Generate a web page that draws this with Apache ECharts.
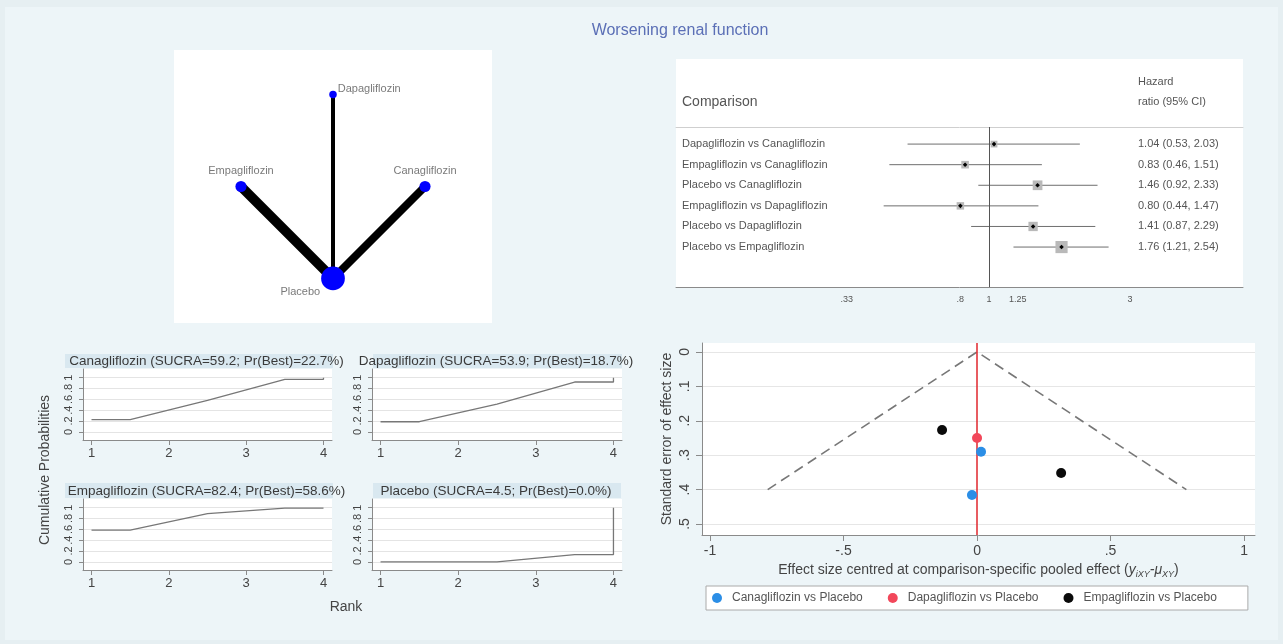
<!DOCTYPE html>
<html>
<head>
<meta charset="utf-8">
<script src="https://cdn.jsdelivr.net/npm/echarts@6/dist/echarts.min.js"></script>
<style>
html,body{margin:0;padding:0;background:#e6eff2;}
#chart{width:1283px;height:644px;}
</style>
</head>
<body>
<div id="chart"></div>
<script>
// ---------------- DATA ----------------
const chartTitle = 'Worsening renal function';

// Network plot
const treatments = ['Canagliflozin', 'Dapagliflozin', 'Empagliflozin', 'Placebo'];
const nodeWeight = [2.2, 1, 2.2, 10];
const edgeFrom = ['Placebo', 'Placebo', 'Placebo'];
const edgeTo = ['Canagliflozin', 'Dapagliflozin', 'Empagliflozin'];
const edgeWeight = [2, 1, 2.4];

// League / forest table
const comparisons = [
  'Dapagliflozin vs Canagliflozin',
  'Empagliflozin vs Canagliflozin',
  'Placebo vs Canagliflozin',
  'Empagliflozin vs Dapagliflozin',
  'Placebo vs Dapagliflozin',
  'Placebo vs Empagliflozin'
];
const hrEst = [1.04, 0.83, 1.46, 0.80, 1.41, 1.76];
const hrLow = [0.53, 0.46, 0.92, 0.44, 0.87, 1.21];
const hrHigh = [2.03, 1.51, 2.33, 1.47, 2.29, 2.54];
const forestTicks = [0.33, 0.8, 1, 1.25, 3];

// SUCRA cumulative ranking curves
const sucraValue = [59.2, 53.9, 82.4, 4.5];
const prBest = [22.7, 18.7, 58.6, 0.0];
const rankPos = [1, 1.5, 2.5, 3.5, 4, 4];
const cumCana = [0.227, 0.227, 0.58, 0.97, 0.97, 1];
const cumDapa = [0.187, 0.187, 0.51, 0.92, 0.92, 1];
const cumEmpa = [0.586, 0.586, 0.89, 0.99, 0.99, 1];
const cumPlac = [0, 0, 0, 0.135, 0.135, 1];
const rankTicks = [1, 2, 3, 4];
const probTicks = [0, 0.2, 0.4, 0.6, 0.8, 1];

// Comparison-adjusted funnel plot
const funnelGroups = ['Canagliflozin vs Placebo', 'Dapagliflozin vs Placebo', 'Empagliflozin vs Placebo'];
const canaEffect = [0.015, -0.019];
const canaSE = [0.29, 0.416];
const dapaEffect = [0.0];
const dapaSE = [0.25];
const empaEffect = [-0.131, 0.315];
const empaSE = [0.227, 0.352];
const funnelMaxSE = 0.4;
const effectTicks = [-1, -0.5, 0, 0.5, 1];
const seTicks = [0, 0.1, 0.2, 0.3, 0.4, 0.5];

// ---------------- BUILD ----------------
const FONT = 'Liberation Sans, Arial, Helvetica, sans-serif';
const chart = echarts.init(document.getElementById('chart'), null, {renderer: 'canvas'});

const stataNum = v => {
  if (v === 0) return '0';
  let s = String(+v.toFixed(4));
  return s.replace(/^0\./, '.').replace(/^-0\./, '-.');
};

// Layout (pixels)
const G = {
  net: {left: 174, top: 50, width: 318, height: 273},
  forest: {left: 676, top: 127, width: 567, height: 160},
  s: [
    {left: 83, top: 369, width: 249, height: 71},
    {left: 372, top: 369, width: 250, height: 71},
    {left: 83, top: 499, width: 249, height: 71},
    {left: 372, top: 499, width: 250, height: 71}
  ],
  funnel: {left: 702, top: 343, width: 553, height: 192}
};

const grids = [
  Object.assign({show: true, backgroundColor: '#ffffff', borderWidth: 0}, G.net),
  Object.assign({show: false}, G.forest),
  ...G.s.map(g => Object.assign({show: true, backgroundColor: '#ffffff', borderWidth: 0}, g)),
  Object.assign({show: true, backgroundColor: '#ffffff', borderWidth: 0}, G.funnel)
];

const fxMin = Math.log(0.0872), fxMax = Math.log(7.24);

const xAxes = [
  {gridIndex: 0, type: 'value', min: -1.728, max: 1.728, show: false},
  {gridIndex: 1, type: 'value', min: fxMin, max: fxMax,
    axisLine: {show: true, onZero: false, lineStyle: {color: '#8a8a8a', width: 1}},
    axisTick: {show: false}, splitLine: {show: false},
    axisLabel: {customValues: forestTicks.map(Math.log), fontSize: 9, color: '#555', margin: 8,
      formatter: v => {
        const t = forestTicks.find(t => Math.abs(Math.log(t) - v) < 1e-6);
        return t === undefined ? '' : stataNum(t);
      }}},
  {gridIndex: 1, type: 'value', position: 'top', min: fxMin, max: fxMax,
    axisLine: {show: true, onZero: false, lineStyle: {color: '#cfcfcf', width: 1}},
    axisTick: {show: false}, axisLabel: {show: false}, splitLine: {show: false}}
];
const yAxes = [
  {gridIndex: 0, type: 'value', min: -1.484, max: 1.484, show: false},
  {gridIndex: 1, type: 'value', inverse: true, min: -0.83, max: 6.94, show: false}
];

G.s.forEach((g, k) => {
  xAxes.push({gridIndex: 2 + k, type: 'value', min: 0.89, max: 4.11,
    axisLine: {show: true, onZero: false, lineStyle: {color: '#8a8a8a'}},
    axisTick: {show: true, customValues: rankTicks, length: 5, lineStyle: {color: '#8a8a8a'}},
    axisLabel: {customValues: rankTicks, fontSize: 13, color: '#444', margin: 7},
    splitLine: {show: false}});
  yAxes.push({gridIndex: 2 + k, type: 'value', min: -0.15, max: 1.16,
    axisLine: {show: true, onZero: false, lineStyle: {color: '#8a8a8a'}},
    axisTick: {show: true, customValues: probTicks, length: 4, lineStyle: {color: '#8a8a8a'}},
    axisLabel: {customValues: probTicks, rotate: 90, fontSize: 11, color: '#444', margin: 9,
      formatter: v => stataNum(v)},
    splitLine: {show: true, lineStyle: {color: '#e4e4e4', width: 1}}});
});

xAxes.push({gridIndex: 6, type: 'value', min: -1.030, max: 1.041,
  axisLine: {show: true, onZero: false, lineStyle: {color: '#8a8a8a'}},
  axisTick: {show: true, customValues: effectTicks, length: 6, lineStyle: {color: '#8a8a8a'}},
  axisLabel: {customValues: effectTicks, fontSize: 14, color: '#444', margin: 9, formatter: v => stataNum(v)},
  splitLine: {show: false},
  name: '{t|Effect size centred at comparison-specific pooled effect (}{i|y}{s|iXY}{i|-μ}{s|XY}{t|)}',
  nameLocation: 'middle', nameGap: 27,
  nameTextStyle: {rich: {
    t: {fontSize: 14, color: '#444', fontFamily: FONT},
    i: {fontSize: 14, color: '#444', fontStyle: 'italic', fontFamily: FONT},
    s: {fontSize: 9, color: '#444', fontStyle: 'italic', fontFamily: FONT, padding: [8, 0, 0, 0], verticalAlign: 'bottom'}
  }}});
yAxes.push({gridIndex: 6, type: 'value', inverse: true, min: -0.026, max: 0.532,
  axisLine: {show: true, onZero: false, lineStyle: {color: '#8a8a8a'}},
  axisTick: {show: true, customValues: seTicks, length: 6, lineStyle: {color: '#8a8a8a'}},
  axisLabel: {customValues: seTicks, rotate: 90, fontSize: 14, color: '#444', margin: 10, formatter: v => stataNum(v)},
  splitLine: {show: true, lineStyle: {color: '#e6e6e6', width: 1}},
  name: 'Standard error of effect size', nameLocation: 'middle', nameGap: 28,
  nameTextStyle: {fontSize: 14, color: '#444', fontFamily: FONT}});

// Network graph series
const labelPlace = {
  Canagliflozin: {position: 'top', distance: 4},
  Dapagliflozin: {position: 'right', distance: 2, offset: [-1, -6]},
  Empagliflozin: {position: 'top', distance: 4},
  Placebo: {position: 'left', distance: 0, offset: [-1, 13]}
};
const netSeries = {
  type: 'graph', coordinateSystem: 'cartesian2d', xAxisIndex: 0, yAxisIndex: 0,
  silent: true, animation: false,
  data: treatments.map((t, i) => {
    const a = i * Math.PI / 2;
    return {
      name: t, value: [Math.cos(a), Math.sin(a)],
      symbolSize: 7.5 * Math.sqrt(nodeWeight[i]),
      label: Object.assign({show: true, color: '#7a7a7a', fontSize: 11, fontFamily: FONT}, labelPlace[t])
    };
  }),
  links: edgeFrom.map((f, i) => ({source: f, target: edgeTo[i], lineStyle: {width: 4 * edgeWeight[i]}})),
  itemStyle: {color: '#0000ff'},
  lineStyle: {color: '#000', opacity: 1, curveness: 0}
};

// Forest custom series
const forestData = comparisons.map((c, i) => [hrEst[i], hrLow[i], hrHigh[i], i]);
const forestSeries = {
  type: 'custom', xAxisIndex: 1, yAxisIndex: 1, silent: true, animation: false,
  data: forestData,
  encode: {x: [0, 1, 2], y: 3},
  renderItem: (params, api) => {
    const est = api.value(0), lo = api.value(1), hi = api.value(2), i = api.value(3);
    const p = api.coord([Math.log(est), i]);
    const l = api.coord([Math.log(lo), i]);
    const h = api.coord([Math.log(hi), i]);
    const se = (Math.log(hi) - Math.log(lo)) / 3.92;
    const s = 2.3 / se;
    const cs = params.coordSys;
    const d = 2.3;
    return {type: 'group', children: [
      {type: 'line', shape: {x1: l[0], y1: l[1], x2: h[0], y2: h[1]}, style: {stroke: '#6e6e6e', lineWidth: 1}},
      {type: 'rect', shape: {x: p[0] - s / 2, y: p[1] - s / 2, width: s, height: s}, style: {fill: '#b9b9b9'}},
      {type: 'polygon', shape: {points: [[p[0], p[1] - d], [p[0] + d, p[1]], [p[0], p[1] + d], [p[0] - d, p[1]]]}, style: {fill: '#000'}},
      {type: 'text', x: cs.x + 6, y: p[1], style: {text: comparisons[i], fill: '#555', fontSize: 11, fontFamily: FONT, verticalAlign: 'middle', align: 'left'}},
      {type: 'text', x: cs.x + cs.width - 105, y: p[1], style: {text: est.toFixed(2) + ' (' + lo.toFixed(2) + ', ' + hi.toFixed(2) + ')', fill: '#555', fontSize: 11, fontFamily: FONT, verticalAlign: 'middle', align: 'left'}}
    ]};
  },
  markLine: {silent: true, symbol: 'none', label: {show: false}, animation: false,
    lineStyle: {color: '#555', width: 1, type: 'solid'},
    data: [{xAxis: 0}]}
};

// SUCRA series
const cumSets = [cumCana, cumDapa, cumEmpa, cumPlac];
const sucraSeries = cumSets.map((c, k) => ({
  type: 'line', xAxisIndex: 3 + k, yAxisIndex: 2 + k, silent: true, animation: false,
  symbol: 'none', lineStyle: {color: '#777', width: 1.3},
  data: rankPos.map((r, j) => [r, c[j]])
}));

// Funnel series
const funnelColors = ['#2b8ee6', '#f2475a', '#0a0a0a'];
const funnelEff = [canaEffect, dapaEffect, empaEffect];
const funnelSe = [canaSE, dapaSE, empaSE];
const funnelPoints = funnelGroups.map((g, k) => ({
  name: g, type: 'scatter', xAxisIndex: 7, yAxisIndex: 6, silent: true, animation: false,
  symbol: 'circle', symbolSize: 10, itemStyle: {color: funnelColors[k], opacity: 1},
  data: funnelEff[k].map((e, j) => [e, funnelSe[k][j]]), z: 5
}));
const funnelLines = {
  type: 'line', xAxisIndex: 7, yAxisIndex: 6, silent: true, animation: false, symbol: 'none',
  lineStyle: {color: '#777', width: 1.6, type: [10, 6]},
  data: [[-1.96 * funnelMaxSE, funnelMaxSE], [0, 0], [1.96 * funnelMaxSE, funnelMaxSE]],
  markLine: {silent: true, symbol: 'none', label: {show: false}, animation: false,
    lineStyle: {color: '#e0262c', width: 1.5, type: 'solid'}, data: [{xAxis: 0}]},
  z: 3
};

// Graphic: panels and free text
const titleBg = [
  {x: 65, y: 354, w: 268, h: 14},
  {x: 373, y: 354, w: 249, h: 14},
  {x: 65, y: 483, w: 268, h: 15},
  {x: 373, y: 483, w: 248, h: 15}
];
const graphics = [
  {type: 'rect', z: -20, shape: {x: 5, y: 7, width: 1273, height: 633}, style: {fill: '#edf5f8'}},
  {type: 'rect', z: -10, shape: {x: 676, y: 59, width: 567, height: 229}, style: {fill: '#ffffff'}},
  {type: 'text', x: 680, y: 31, style: {text: chartTitle, fill: '#5b6fb6', fontSize: 16, fontFamily: FONT, align: 'center', verticalAlign: 'middle'}},
  {type: 'text', x: 682, y: 102, style: {text: 'Comparison', fill: '#555', fontSize: 14, fontFamily: FONT, align: 'left', verticalAlign: 'middle'}},
  {type: 'text', x: 1138, y: 82, style: {text: 'Hazard', fill: '#555', fontSize: 11, fontFamily: FONT, align: 'left', verticalAlign: 'middle'}},
  {type: 'text', x: 1138, y: 102, style: {text: 'ratio (95% CI)', fill: '#555', fontSize: 11, fontFamily: FONT, align: 'left', verticalAlign: 'middle'}},
  {type: 'text', x: 45, y: 470, rotation: Math.PI / 2, style: {text: 'Cumulative Probabilities', fill: '#444', fontSize: 14, fontFamily: FONT, align: 'center', verticalAlign: 'middle'}},
  {type: 'text', x: 346, y: 607, style: {text: 'Rank', fill: '#444', fontSize: 14, fontFamily: FONT, align: 'center', verticalAlign: 'middle'}}
];
titleBg.forEach((b, k) => {
  graphics.push({type: 'rect', z: -5, shape: {x: b.x, y: b.y, width: b.w, height: b.h}, style: {fill: '#d9e8f0'}});
  const g = G.s[k];
  graphics.push({type: 'text', x: g.left + g.width / 2 - 1, y: b.y + b.h / 2 + 0.5,
    style: {text: treatments[k] + ' (SUCRA=' + sucraValue[k].toFixed(1) + '; Pr(Best)=' + prBest[k].toFixed(1) + '%)',
      fill: '#3a3a3a', fontSize: 13.5, fontFamily: FONT, align: 'center', verticalAlign: 'middle'}});
});

const option = {
  backgroundColor: '#e6eff2',
  animation: false,
  textStyle: {fontFamily: FONT},
  grid: grids,
  xAxis: xAxes,
  yAxis: yAxes,
  legend: {
    data: funnelGroups, left: 706, top: 586, orient: 'horizontal',
    icon: 'circle', itemWidth: 10, itemHeight: 10, itemGap: 25,
    padding: [6, 31, 6, 6], backgroundColor: '#ffffff', borderColor: '#aaaaaa', borderWidth: 1,
    textStyle: {fontSize: 12, color: '#555', fontFamily: FONT, padding: [0, 0, 0, 5]}, selectedMode: false
  },
  graphic: graphics,
  series: [netSeries, forestSeries, ...sucraSeries, funnelLines, ...funnelPoints]
};
chart.setOption(option);
</script>
</body>
</html>
